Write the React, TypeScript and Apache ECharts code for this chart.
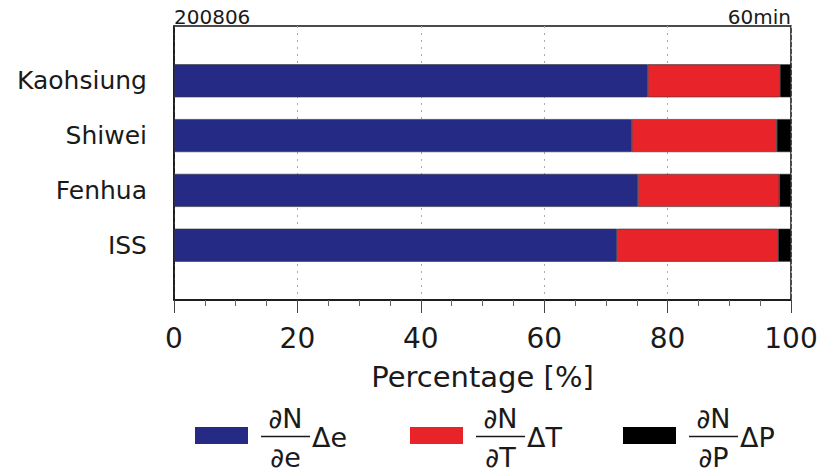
import React, { useEffect, useRef } from "react";
import * as echarts from "echarts";

const categories = ["Kaohsiung", "Shiwei", "Fenhua", "ISS"];
const dE = [76.8, 74.2, 75.2, 71.8];
const dT = [21.4, 23.5, 22.9, 26.1];
const dP = [1.8, 2.3, 1.9, 2.1];
const xTicks = [0, 20, 40, 60, 80, 100];
const seriesNames = ["∂N/∂e Δe", "∂N/∂T ΔT", "∂N/∂P ΔP"];
const legendVars = ["e", "T", "P"];
const colors = ["#252a84", "#e8232a", "#000000"];

const FONT = "DejaVu Sans";

export default function App() {
  const ref = useRef<HTMLDivElement>(null);
  useEffect(() => {
    document.body.style.margin = "0";
    const chart = echarts.init(ref.current!, null, { renderer: "svg" });
    const yData = ["", ...categories, ""];
    const pad = (a: number[]) => ["-", ...a, "-"];
    const series = [dE, dT, dP].map((d, i) => ({
      name: seriesNames[i],
      type: "bar",
      stack: "total",
      barWidth: 33,
      data: pad(d),
      itemStyle: { color: colors[i], borderColor: "#333", borderWidth: 0.6 },
    }));

    const legendX = [195, 410, 623];
    const graphic: any[] = [
      {
        type: "text",
        style: { text: "200806", x: 174, y: 17, font: `20px '${FONT}'`, fill: "#1a1a1a", textAlign: "left", textVerticalAlign: "middle" },
      },
      {
        type: "text",
        style: { text: "60min", x: 791, y: 17, font: `20px '${FONT}'`, fill: "#1a1a1a", textAlign: "right", textVerticalAlign: "middle" },
      },
    ];
    legendX.forEach((lx, i) => {
      const fx0 = lx + 66;
      const fw = 49;
      const cx = fx0 + fw / 2;
      graphic.push(
        { type: "rect", shape: { x: lx, y: 427, width: 53, height: 17 }, style: { fill: colors[i] } },
        { type: "line", shape: { x1: fx0, y1: 436.5, x2: fx0 + fw, y2: 436.5 }, style: { stroke: "#1a1a1a", lineWidth: 1.5 } },
        { type: "text", style: { text: "∂N", x: cx, y: 418, font: `27px '${FONT}'`, fill: "#1a1a1a", textAlign: "center", textVerticalAlign: "middle" } },
        { type: "text", style: { text: "∂" + legendVars[i], x: cx, y: 457, font: `27px '${FONT}'`, fill: "#1a1a1a", textAlign: "center", textVerticalAlign: "middle" } },
        { type: "text", style: { text: "Δ" + legendVars[i], x: fx0 + fw + 2, y: 437, font: `27px '${FONT}'`, fill: "#1a1a1a", textAlign: "left", textVerticalAlign: "middle" } }
      );
    });

    chart.setOption({
      animation: false,
      grid: { left: 174, right: 36, top: 26, bottom: 171, show: true, borderColor: "#111", borderWidth: 1.5, backgroundColor: "transparent" },
      xAxis: {
        type: "value",
        min: xTicks[0],
        max: xTicks[xTicks.length - 1],
        interval: 20,
        name: "Percentage [%]",
        nameLocation: "middle",
        nameGap: 62,
        nameTextStyle: { fontFamily: FONT, fontSize: 29, color: "#1a1a1a" },
        axisLine: { show: true, lineStyle: { color: "#111", width: 1.5 } },
        axisTick: { show: true, inside: false, length: 13, lineStyle: { color: "#444", width: 1 } },
        minorTick: { show: true, splitNumber: 4, length: 6, lineStyle: { color: "#666", width: 1 } },
        axisLabel: { fontFamily: FONT, fontSize: 28, color: "#1a1a1a", margin: 24 },
        splitLine: { show: true, lineStyle: { color: "#aaa", type: [2, 5], width: 1 } },
      },
      yAxis: {
        type: "category",
        data: yData,
        inverse: true,
        boundaryGap: false,
        axisLine: { show: true, lineStyle: { color: "#111", width: 1.5 } },
        axisTick: { show: false },
        splitLine: { show: false },
        axisLabel: { fontFamily: FONT, fontSize: 25, color: "#1a1a1a", margin: 27 },
      },
      series,
      graphic,
    });
    return () => chart.dispose();
  }, []);
  return <div ref={ref} style={{ width: 827, height: 471 }} />;
}
